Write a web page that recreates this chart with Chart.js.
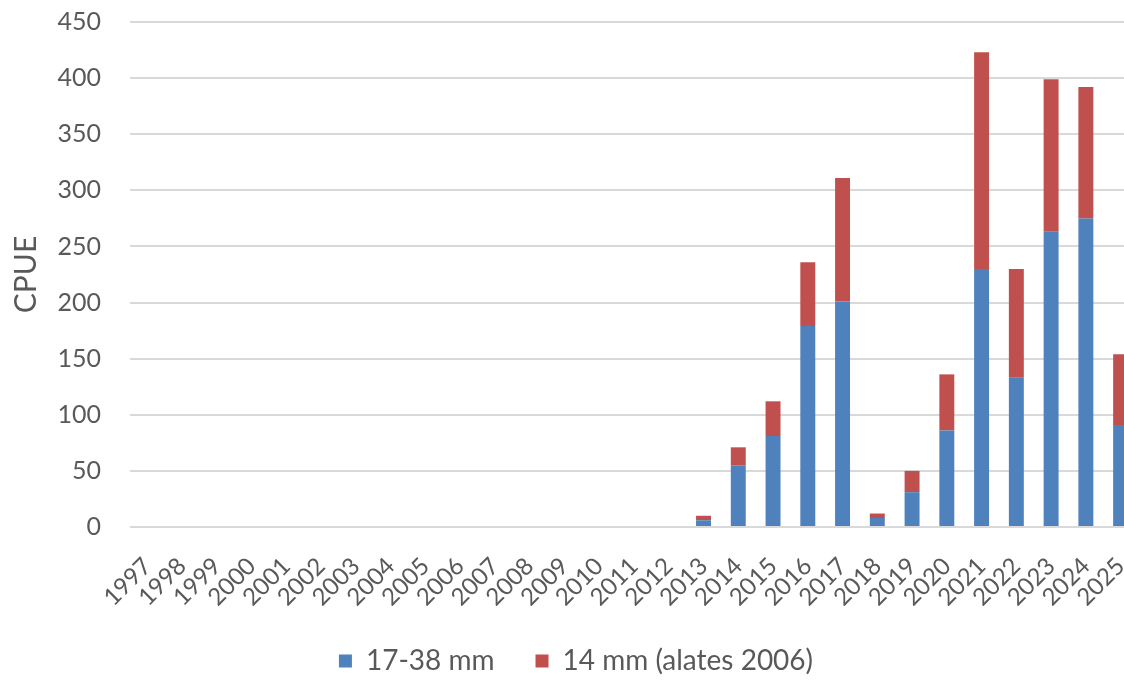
<!DOCTYPE html>
<html>
<head>
<meta charset="utf-8">
<script src="https://cdn.jsdelivr.net/npm/chart.js@4.4.0/dist/chart.umd.min.js"></script>
<style>
  html, body { margin: 0; padding: 0; background: #fff; overflow: hidden; }
  #wrap { width: 1140px; height: 683px; }
</style>
</head>
<body>
<div id="wrap"><canvas id="c" width="1140" height="683"></canvas></div>
<script>
const years = ['1997','1998','1999','2000','2001','2002','2003','2004','2005','2006','2007','2008','2009','2010','2011','2012','2013','2014','2015','2016','2017','2018','2019','2020','2021','2022','2023','2024','2025'];
const series1Label = '17-38 mm';
const series2Label = '14 mm (alates 2006)';
const series1 = [0,0,0,0,0,0,0,0,0,0,0,0,0,0,0,0,6,55,81,179,201,8,31,86,230,133,263,275,91];
const series2 = [0,0,0,0,0,0,0,0,0,0,0,0,0,0,0,0,4,16,31,57,110,4,19,50,193,97,136,117,63];
const yTicks = [0,50,100,150,200,250,300,350,400,450];

const FONT = 'Lato, "Open Sans", sans-serif';
const GREY = '#595959';

new Chart(document.getElementById('c'), {
  type: 'bar',
  data: {
    labels: years,
    datasets: [
      { label: series1Label, data: series1, backgroundColor: '#4F81BD', borderWidth: 0, barPercentage: 0.43, categoryPercentage: 1.0 },
      { label: series2Label, data: series2, backgroundColor: '#C0504D', borderWidth: 0, barPercentage: 0.43, categoryPercentage: 1.0 }
    ]
  },
  options: {
    responsive: false,
    animation: false,
    events: [],
    layout: { padding: { left: 14, right: 2, top: 22, bottom: -2 } },
    plugins: {
      tooltip: { enabled: false },
      legend: {
        position: 'bottom',
        labels: {
          font: { family: FONT, size: 28 },
          color: GREY,
          boxWidth: 13,
          boxHeight: 13,
          padding: 41
        }
      }
    },
    scales: {
      x: {
        stacked: true,
        grid: { display: false },
        border: { display: false },
        ticks: {
          autoSkip: false,
          minRotation: 45,
          maxRotation: 45,
          font: { family: FONT, size: 24 },
          color: GREY,
          padding: 17
        },
        afterFit(scale) {
          scale.height = 79;
          scale.paddingLeft = 0;
          scale.paddingRight = 0;
        }
      },
      y: {
        stacked: true,
        min: 0,
        max: 450,
        afterBuildTicks(scale) { scale.ticks = yTicks.map(v => ({ value: v })); },
        grid: { color: '#D9D9D9', lineWidth: 2, drawTicks: false },
        border: { display: false },
        ticks: {
          font: { family: FONT, size: 25 },
          color: GREY,
          padding: 29
        },
        title: {
          display: true,
          text: 'CPUE',
          font: { family: FONT, size: 30 },
          color: GREY,
          padding: { top: -6, bottom: 0 }
        },
        afterFit(scale) {
          scale.width = 116;
          scale.paddingTop = 0;
          scale.paddingBottom = 0;
        }
      }
    }
  }
});
</script>
</body>
</html>
